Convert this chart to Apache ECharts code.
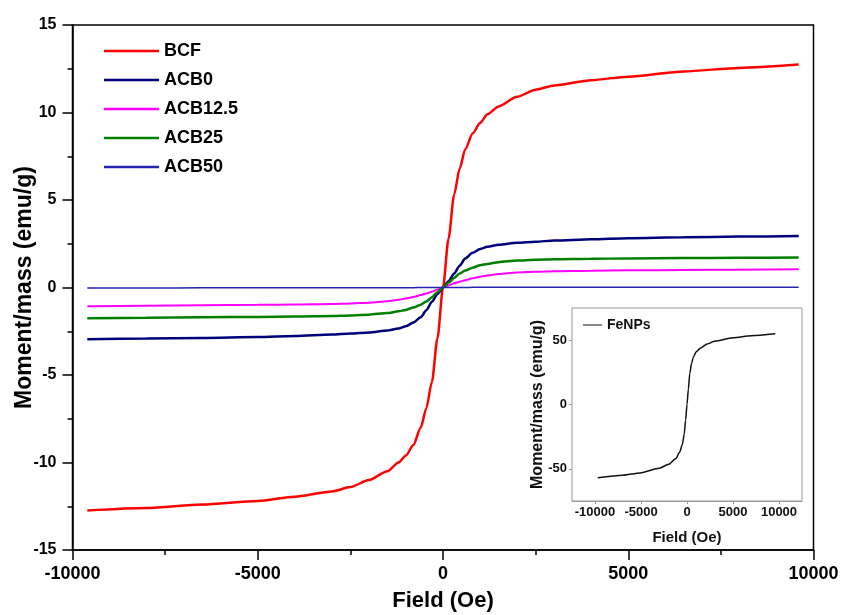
<!DOCTYPE html>
<html>
<head>
<meta charset="utf-8">
<script src="https://cdn.jsdelivr.net/npm/echarts@6/dist/echarts.min.js"></script>
<style>
html,body{margin:0;padding:0;background:#fff;}
#chart{width:841px;height:615px;}
</style>
</head>
<body>
<div id="chart"></div>
<script>
// ---- Data ----
const fieldOe = [-9600,-8000,-6500,-5000,-4000,-3000,-2500,-2000,-1500,-1200,-1000,-800,-600,-450,-300,-150,0,150,300,450,600,800,1000,1200,1500,2000,2500,3000,4000,5000,6500,8000,9600];
const BCF     = [-12.74,-12.6,-12.4,-12.2,-11.95,-11.65,-11.4,-11.0,-10.5,-10.0,-9.6,-9.0,-8.0,-6.9,-5.4,-2.9,0,2.8,5.3,6.8,7.9,8.8,9.4,9.9,10.35,10.9,11.3,11.55,11.85,12.05,12.35,12.55,12.74];
const ACB0    = [-2.96,-2.92,-2.88,-2.83,-2.77,-2.69,-2.63,-2.57,-2.46,-2.34,-2.21,-2.0,-1.7,-1.3,-0.82,-0.37,0,0.36,0.8,1.25,1.66,1.98,2.2,2.33,2.45,2.56,2.62,2.68,2.76,2.82,2.87,2.91,2.94];
const ACB12_5 = [-1.07,-1.04,-1.01,-0.99,-0.97,-0.94,-0.91,-0.87,-0.78,-0.7,-0.63,-0.54,-0.43,-0.34,-0.24,-0.12,0,0.12,0.24,0.33,0.42,0.53,0.62,0.69,0.77,0.86,0.9,0.93,0.96,0.98,1.0,1.02,1.04];
const ACB25   = [-1.76,-1.73,-1.7,-1.68,-1.66,-1.63,-1.6,-1.55,-1.46,-1.36,-1.28,-1.14,-0.98,-0.8,-0.55,-0.27,0,0.27,0.55,0.8,0.97,1.13,1.27,1.35,1.45,1.54,1.58,1.61,1.64,1.66,1.68,1.7,1.72];
const ACB50   = [-0.03,-0.03,-0.02,-0.02,-0.02,-0.02,-0.02,-0.01,-0.01,-0.01,-0.01,-0.01,0,0,0,0,0,0,0,0,0,0.01,0.01,0.01,0.01,0.01,0.02,0.02,0.02,0.02,0.02,0.02,0.02];

const insetField = [-9700,-7000,-5100,-3000,-2000,-1200,-800,-500,-300,-150,0,150,300,500,700,1000,1500,2200,3000,5000,7000,9600];
const FeNPs      = [-57,-55,-53.2,-49.5,-46.5,-42,-37,-31,-23,-12,0,12,24,32,37,41,44,47,49.2,51.8,53.5,55];

const insetXTicks = [-10000,-5000,0,5000,10000];
const insetYTicks = [-50,0,50];

const seriesNames = ['BCF','ACB0','ACB12.5','ACB25','ACB50'];
const seriesData  = [BCF, ACB0, ACB12_5, ACB25, ACB50];
const seriesColors = ['#ff0000','#00007a','#ff00ff','#007f00','#2424b0'];
const seriesWidths = [2.5, 2.5, 2, 2.5, 1.5];

const FONT = "'Liberation Sans', Arial, sans-serif";
const plain = v => String(v);

function pairs(xs, ys){ return xs.map((x,i)=>[x, ys[i]]); }

const mainSeries = seriesNames.map((n,i)=>({
  name: n, type: 'line', xAxisIndex: 0, yAxisIndex: 0,
  data: pairs(fieldOe, seriesData[i]),
  showSymbol: false, symbol: 'none',
  smooth: 0.25, smoothMonotone: 'x',
  lineStyle: {color: seriesColors[i], width: seriesWidths[i]},
  itemStyle: {color: seriesColors[i]},
  z: 3
}));

const option = {
  backgroundColor: '#fff',
  animation: false,
  grid: [
    {left: 72.5, top: 25, width: 741, height: 525, outerBoundsMode: 'none', containLabel: false, show: true, borderColor: '#000', borderWidth: 1.5, backgroundColor: 'transparent', z: 1},
    {left: 572, top: 308, width: 230, height: 193, outerBoundsMode: 'none', containLabel: false, show: true, borderColor: '#999', borderWidth: 1, backgroundColor: '#fff', z: 5}
  ],
  legend: [
    {
      orient: 'vertical', left: 104, top: 42, padding: 0, itemWidth: 55, itemHeight: 2.5, itemGap: 11,
      data: seriesNames.map((n,i)=>({name: n, icon: 'rect', itemStyle: {color: seriesColors[i]}})),
      textStyle: {fontFamily: FONT, fontWeight: 'bold', fontSize: 18, color: '#000', lineHeight: 18},
      selectedMode: false, z: 6
    },
    {
      orient: 'vertical', left: 583, top: 318, padding: 0, itemWidth: 19, itemHeight: 2,
      data: [{name: 'FeNPs', icon: 'rect', itemStyle: {color: '#888'}}],
      textStyle: {fontFamily: FONT, fontWeight: 'bold', fontSize: 14, color: '#111', lineHeight: 14},
      selectedMode: false, z: 7
    }
  ],
  xAxis: [
    {
      type: 'value', gridIndex: 0, min: -10000, max: 10000, interval: 5000,
      name: 'Field (Oe)', nameLocation: 'middle', nameGap: 40, nameMoveOverlap: false,
      nameTextStyle: {fontFamily: FONT, fontWeight: 'bold', fontSize: 22, color: '#000'},
      axisLine: {show: true, onZero: false, lineStyle: {color: '#000', width: 1.5}},
      axisTick: {show: true, inside: false, length: 10, lineStyle: {color: '#000', width: 1.5}},
      minorTick: {show: true, splitNumber: 2, length: 5, lineStyle: {color: '#000', width: 1.5}},
      splitLine: {show: false},
      axisLabel: {margin: 15, formatter: plain, fontFamily: FONT, fontWeight: 'bold', fontSize: 18, color: '#000'}
    },
    {
      type: 'value', gridIndex: 1, min: -12500, max: 12500,
      name: 'Field (Oe)', nameLocation: 'middle', nameGap: 29, nameMoveOverlap: false,
      nameTextStyle: {fontFamily: FONT, fontWeight: 'bold', fontSize: 15, color: '#111'},
      axisLine: {show: true, onZero: false, lineStyle: {color: '#999', width: 1}},
      axisTick: {show: true, inside: false, length: 3, customValues: insetXTicks, lineStyle: {color: '#999'}},
      splitLine: {show: false},
      axisLabel: {margin: 5, customValues: insetXTicks, formatter: plain, fontFamily: FONT, fontWeight: 'bold', fontSize: 13, color: '#111'}
    }
  ],
  yAxis: [
    {
      type: 'value', gridIndex: 0, min: -15, max: 15, interval: 5,
      name: 'Moment/mass (emu/g)', nameLocation: 'middle', nameGap: 36, nameMoveOverlap: false,
      nameTextStyle: {fontFamily: FONT, fontWeight: 'bold', fontSize: 23, color: '#000'},
      axisLine: {show: true, onZero: false, lineStyle: {color: '#000', width: 1.5}},
      axisTick: {show: true, inside: false, length: 10, lineStyle: {color: '#000', width: 1.5}},
      minorTick: {show: true, splitNumber: 2, length: 5, lineStyle: {color: '#000', width: 1.5}},
      splitLine: {show: false},
      axisLabel: {margin: 16, formatter: plain, fontFamily: FONT, fontWeight: 'bold', fontSize: 16, color: '#000'}
    },
    {
      type: 'value', gridIndex: 1, min: -75, max: 75,
      name: 'Moment/mass (emu/g)', nameLocation: 'middle', nameGap: 26, nameMoveOverlap: false,
      nameTextStyle: {fontFamily: FONT, fontWeight: 'bold', fontSize: 16, color: '#111'},
      axisLine: {show: true, onZero: false, lineStyle: {color: '#999', width: 1}},
      axisTick: {show: true, inside: false, length: 3, customValues: insetYTicks, lineStyle: {color: '#999'}},
      splitLine: {show: false},
      axisLabel: {margin: 5, customValues: insetYTicks, formatter: plain, fontFamily: FONT, fontWeight: 'bold', fontSize: 13, color: '#111'}
    }
  ],
  series: mainSeries.concat([{
    name: 'FeNPs', type: 'line', xAxisIndex: 1, yAxisIndex: 1,
    data: pairs(insetField, FeNPs),
    showSymbol: false, symbol: 'none', smooth: 0.25, smoothMonotone: 'x',
    lineStyle: {color: '#111', width: 1.5}, itemStyle: {color: '#111'}, z: 6
  }])
};

const chart = echarts.init(document.getElementById('chart'), null, {renderer: 'canvas'});
chart.setOption(option);
</script>
</body>
</html>
